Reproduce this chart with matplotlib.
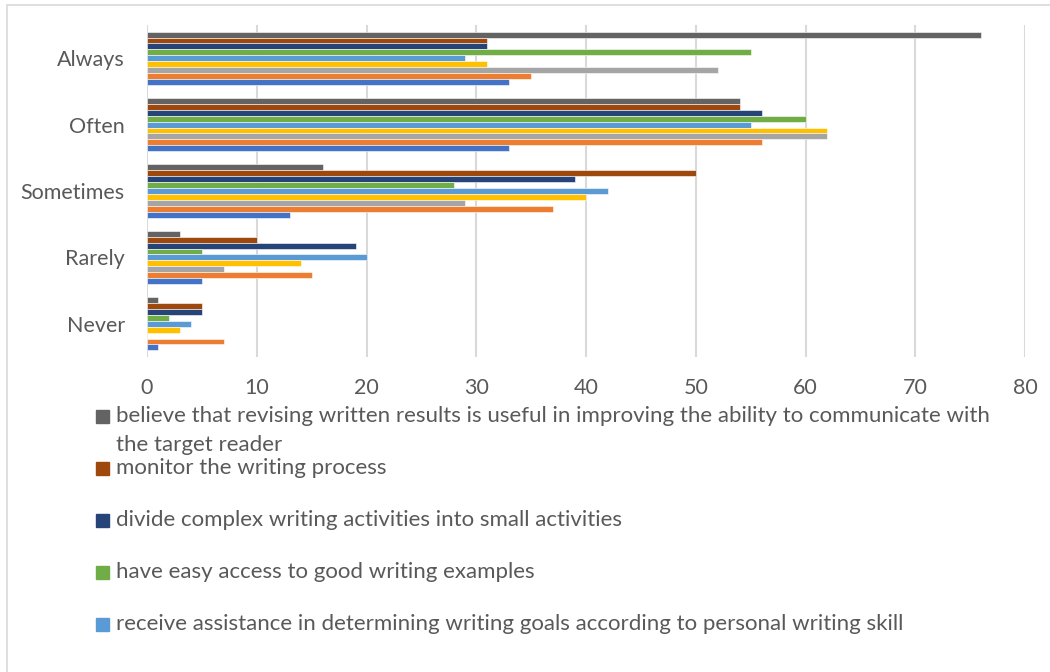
import numpy as np
import matplotlib
matplotlib.use('Agg')
import matplotlib.pyplot as plt
from matplotlib.patches import Rectangle

categories = ['Always', 'Often', 'Sometimes', 'Rarely', 'Never']

# series in the order they are stacked inside each group (top to bottom)
s_revising = [76, 54, 16, 3, 1]
s_monitor = [31, 54, 50, 10, 5]
s_divide = [31, 56, 39, 19, 5]
s_examples = [55, 60, 28, 5, 2]
s_assist = [29, 55, 42, 20, 4]
s_yellow = [31, 62, 40, 14, 3]
s_gray = [52, 62, 29, 7, 0]
s_orange = [35, 56, 37, 15, 7]
s_blue = [33, 33, 13, 5, 1]

series = [s_revising, s_monitor, s_divide, s_examples, s_assist,
          s_yellow, s_gray, s_orange, s_blue]
colors = ['#636363', '#9E480E', '#264478', '#70AD47', '#5B9BD5',
          '#FFC000', '#A5A5A5', '#ED7D31', '#4472C4']

# only the first five entries fit in the legend box
legend_labels = [
    'believe that revising written results is useful in improving the ability to communicate with\nthe target reader',
    'monitor the writing process',
    'divide complex writing activities into small activities',
    'have easy access to good writing examples',
    'receive assistance in determining writing goals according to personal writing skill',
]

TXT = '#595959'
plt.rcParams['font.family'] = ['Lato', 'DejaVu Sans']

fig = plt.figure(figsize=(10.5, 6.72), dpi=100)
W, H = 1050.0, 672.0

# chart border
fig.patches.append(Rectangle((7 / W, -0.1), 1.2, 1.1 - 5 / H, transform=fig.transFigure,
                             fill=False, edgecolor='#D9D9D9', linewidth=1.2))

ax = fig.add_axes([147 / W, 1 - 357 / H, (1025 - 147) / W, (357 - 25) / H])

y = np.arange(len(categories))
n = len(series)
bh = 0.8 / n
for i, (vals, c) in enumerate(zip(series, colors)):
    ax.barh(y + (i - (n - 1) / 2) * bh, vals, height=bh, color=c,
            edgecolor='white', linewidth=0.4, zorder=3)

ax.set_xlim(0, 80)
ax.set_xticks(range(0, 81, 10))
ax.set_ylim(len(categories) - 0.5, -0.5)
ax.set_yticks(y)
ax.set_yticklabels(categories)
ax.grid(axis='x', color='#D9D9D9', linewidth=1.5, zorder=0)
for sp in ax.spines.values():
    sp.set_visible(False)
ax.tick_params(axis='both', length=0, labelsize=15.5, labelcolor=TXT)
ax.tick_params(axis='x', pad=15)
ax.tick_params(axis='y', pad=16)

# legend, drawn by hand so the long entry wraps like the original
y0 = 416
step = 52
for k, (lab, c) in enumerate(zip(legend_labels, colors)):
    yc = y0 + k * step
    fig.patches.append(Rectangle((96 / W, 1 - (yc + 7) / H), 13 / W, 13 / H,
                                 transform=fig.transFigure, color=c))
    for j, line in enumerate(lab.split('\n')):
        fig.text(116 / W, 1 - (yc + j * 29) / H, line, ha='left', va='center',
                 fontsize=16, color=TXT)

fig.savefig('out.png', dpi=100, facecolor='white')
